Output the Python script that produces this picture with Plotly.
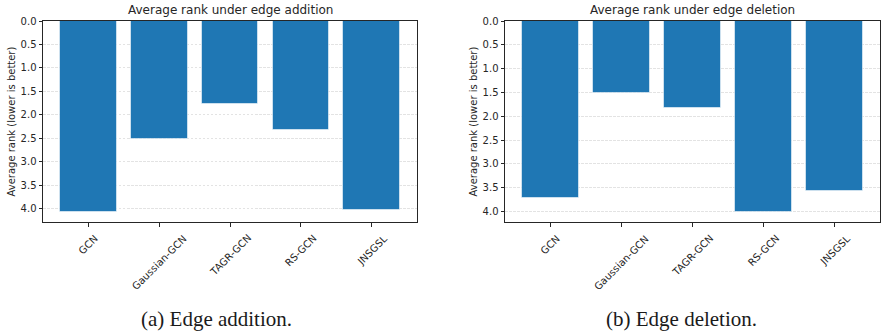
import plotly.graph_objects as go

models = ["GCN", "Gaussian-GCN", "TAGR-GCN", "RS-GCN", "JNSGSL"]
rank_addition = [4.08, 2.51, 1.77, 2.32, 4.03]
rank_deletion = [3.71, 1.52, 1.82, 4.02, 3.56]
titles = ["Average rank under edge addition", "Average rank under edge deletion"]
captions = ["(a) Edge addition.", "(b) Edge deletion."]
ylabel = "Average rank (lower is better)"
yticks = [0.0, 0.5, 1.0, 1.5, 2.0, 2.5, 3.0, 3.5, 4.0]

W, H = 887, 335
ML, MR, MT, MB = 43, 7, 21, 113
PW = W - ML - MR
BLUE = "#1f77b4"
SPINE = "#262626"
positions = list(range(len(models)))

fig = go.Figure()
domains = [[0, (417 - ML) / PW], [(505 - ML) / PW, 1]]
series = [rank_addition, rank_deletion]

for i, vals in enumerate(series):
    xa = "x" if i == 0 else "x2"
    ya = "y" if i == 0 else "y2"
    fig.add_trace(go.Bar(
        x=positions, y=vals, width=0.8, xaxis=xa, yaxis=ya,
        marker=dict(color=BLUE, line=dict(color="rgba(255,255,255,0.55)", width=1)),
        showlegend=False, hoverinfo="x+y",
    ))
    top = max(vals) * 1.05
    axcommon = dict(showline=True, linecolor=SPINE, linewidth=1, mirror=True)
    fig.layout[("xaxis" if i == 0 else "xaxis2")] = dict(
        domain=domains[i], range=[-0.64, 4.64], tickvals=positions,
        showticklabels=False, ticks="outside", ticklen=3.5, tickcolor=SPINE,
        showgrid=False, zeroline=False, anchor=ya, **axcommon)
    fig.layout[("yaxis" if i == 0 else "yaxis2")] = dict(
        domain=[0, 1], range=[top, 0], tickvals=yticks, tickformat=".1f",
        ticks="outside", ticklen=3.5, tickcolor=SPINE,
        tickfont=dict(family="DejaVu Sans", size=10, color="#262626"),
        showgrid=True, gridcolor="rgba(0,0,0,0.11)", griddash="2.5px,1.5px", gridwidth=0.8,
        zeroline=False, anchor=xa, **axcommon)
    # x tick labels, rotated and centred under ticks
    for p, name in zip(positions, models):
        fig.add_annotation(
            x=p, y=0, xref=xa, yref="paper", text=name, showarrow=False,
            textangle=-45, xanchor="center", yanchor="top", yshift=-8,
            font=dict(family="DejaVu Sans", size=10, color="#262626"))
    # subplot title
    fig.add_annotation(
        x=(domains[i][0] + domains[i][1]) / 2, y=1, xref="paper", yref="paper",
        text=titles[i], showarrow=False, xanchor="center", yanchor="bottom", yshift=2,
        font=dict(family="DejaVu Sans", size=12, color="#262626"))
    # y label
    fig.add_annotation(
        x=domains[i][0], y=0.5, xref="paper", yref="paper", text=ylabel,
        showarrow=False, textangle=-90, xanchor="center", yanchor="middle",
        xshift=-32, font=dict(family="DejaVu Sans", size=10, color="#262626"))

cap_x = [(216 - ML) / PW, (681 - ML) / PW]
for cx, cap in zip(cap_x, captions):
    fig.add_annotation(
        x=cx, y=0, xref="paper", yref="paper", text=cap, showarrow=False,
        xanchor="center", yanchor="middle", yshift=-97,
        font=dict(family="Liberation Serif", size=21, color="#1a1a1a"))

fig.update_layout(
    width=W, height=H, margin=dict(l=ML, r=MR, t=MT, b=MB),
    paper_bgcolor="white", plot_bgcolor="white", bargap=0,
)
fig.write_html("out.html")
